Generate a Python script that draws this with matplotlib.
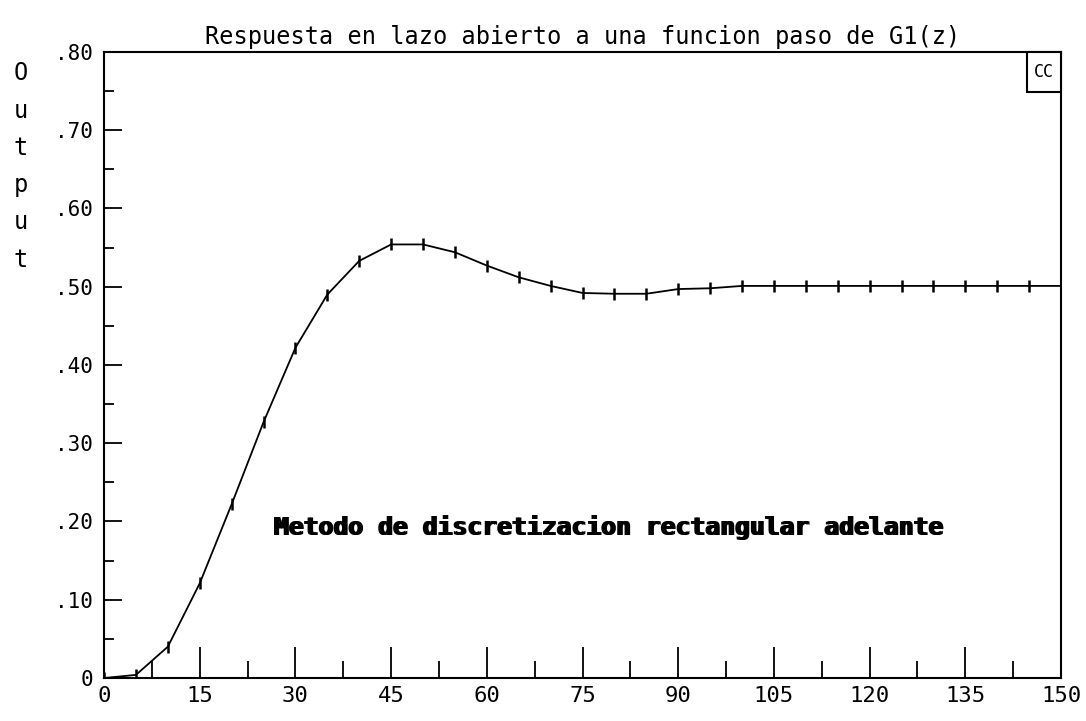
#!/usr/bin/env python3
# -*- coding: utf-8 -*-

import numpy as np
from matplotlib import pyplot as plt
from matplotlib.patches import Rectangle
from matplotlib.ticker import MultipleLocator, FixedLocator

# sampled step response (every 5 samples)
k = [0, 5, 10, 15, 20, 25, 30, 35, 40, 45, 50, 55, 60, 65, 70, 75,
     80, 85, 90, 95, 100, 105, 110, 115, 120, 125, 130, 135, 140, 145, 150]
y = [0.0, 0.004, 0.040, 0.121, 0.222, 0.327, 0.422, 0.490, 0.533, 0.554,
     0.554, 0.544, 0.527, 0.512, 0.501, 0.492, 0.491, 0.491, 0.497, 0.498,
     0.501, 0.501, 0.501, 0.501, 0.501, 0.501, 0.501, 0.501, 0.501, 0.501, 0.501]

xticks = [0, 15, 30, 45, 60, 75, 90, 105, 120, 135, 150]
yticks = [0, 0.1, 0.2, 0.3, 0.4, 0.5, 0.6, 0.7, 0.8]
ylabels = ['0', '.10', '.20', '.30', '.40', '.50', '.60', '.70', '.80']

title = 'Respuesta en lazo abierto a una funcion paso de G1(z)'
note = 'Metodo de discretizacion rectangular adelante'

FONT = 'DejaVu Sans Mono'


def plot_data():
    fig = plt.figure(figsize=(10.86, 7.21), dpi=100)
    ax = fig.add_axes([0.0958, 0.0596, 0.8812, 0.8684])

    ax.plot(k, y, color='black', lw=1.3, marker='|', ms=9, mew=1.8)

    ax.set_xlim(0, 150)
    ax.set_ylim(0, 0.8)
    ax.xaxis.set_major_locator(FixedLocator(xticks))
    ax.xaxis.set_minor_locator(MultipleLocator(7.5))
    ax.yaxis.set_major_locator(FixedLocator(yticks))
    ax.yaxis.set_minor_locator(MultipleLocator(0.05))
    ax.set_xticklabels([str(t) for t in xticks], family=FONT, fontsize=16)
    ax.set_yticklabels(ylabels, family=FONT, fontsize=15)

    ax.tick_params(axis='x', which='major', direction='in', length=22, width=1.3, pad=6)
    ax.tick_params(axis='x', which='minor', direction='in', length=12, width=1.3)
    ax.tick_params(axis='y', which='major', direction='in', length=13, width=1.3, pad=8)
    ax.tick_params(axis='y', which='minor', direction='in', length=7, width=1.3)
    for s in ax.spines.values():
        s.set_linewidth(1.5)

    ax.set_title(title, family=FONT, fontsize=17, pad=6)

    fig.text(0.019, 0.915, 'O\nu\nt\np\nu\nt', family=FONT, fontsize=17,
             ha='center', va='top', linespacing=1.7)

    # overstruck note in the middle of the plot
    for dx in (0.0, 0.3):
        ax.text(79.0 + dx, 0.192, note, family=FONT, fontsize=17.8, fontweight='bold',
                ha='center', va='center', color='black')

    # small legend box in the corner
    ax.add_patch(Rectangle((0.9645, 0.936), 0.0355, 0.064, transform=ax.transAxes,
                           fc='white', ec='black', lw=1.5, clip_on=False, zorder=3))
    ax.text(0.982, 0.968, 'CC', transform=ax.transAxes, family=FONT, fontsize=12,
            ha='center', va='center', zorder=4)

    fig.savefig('out.png', dpi=100)


def main():
    plot_data()


if __name__ == "__main__":
    main()
